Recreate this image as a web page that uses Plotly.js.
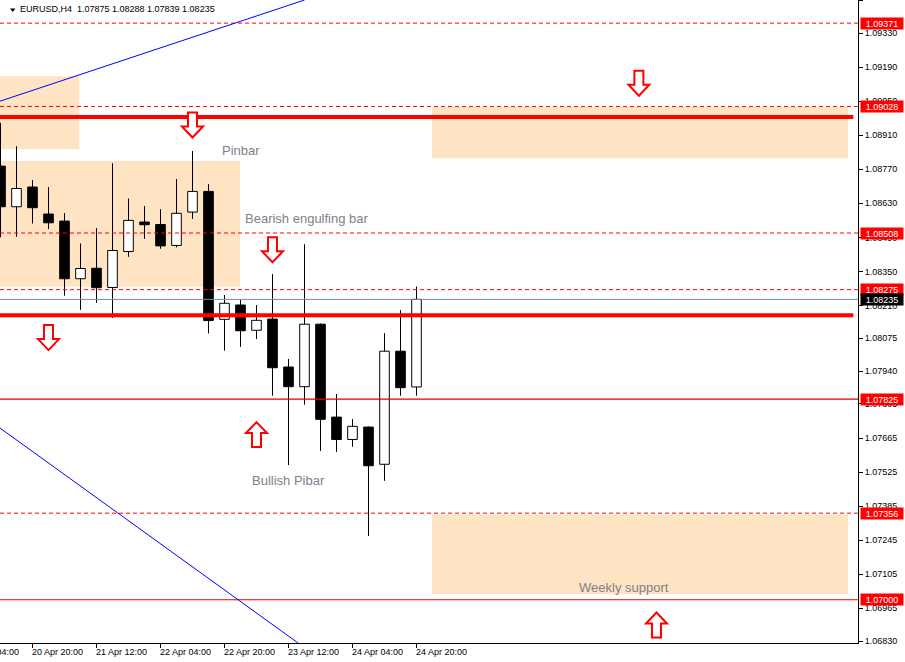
<!DOCTYPE html>
<html><head><meta charset="utf-8">
<script src="https://cdn.plot.ly/plotly-3.0.1.min.js"></script>
<style>html,body{margin:0;padding:0;background:#fff}#chart{width:905px;height:662px}</style>
</head><body><div id="chart"></div>
<script>
// ---------- data ----------
const symbolTitle = "EURUSD,H4  1.07875 1.08288 1.07839 1.08235";
const barIndex = [0,1,2,3,4,5,6,7,8,9,10,11,12,13,14,15,16,17,18,19,20,21,22,23,24,25,26];
const open  = [1.08783,1.08616,1.08697,1.08586,1.08557,1.08320,1.08363,1.08284,1.08432,1.08553,1.08543,1.08457,1.08594,1.08679,1.08153,1.08212,1.08108,1.08154,1.07957,1.07876,1.08133,1.07751,1.07659,1.07710,1.07557,1.08022,1.07875];
const high  = [1.08961,1.08865,1.08726,1.08697,1.08590,1.08465,1.08528,1.08795,1.08650,1.08619,1.08606,1.08730,1.08845,1.08709,1.08253,1.08235,1.08212,1.08339,1.07990,1.08462,1.08136,1.07846,1.07743,1.07712,1.08096,1.08191,1.08288];
const low   = [1.08490,1.08492,1.08547,1.08524,1.08250,1.08192,1.08221,1.08159,1.08410,1.08484,1.08443,1.08449,1.08566,1.08095,1.08024,1.08040,1.08072,1.07839,1.07554,1.07802,1.07612,1.07608,1.07629,1.07262,1.07489,1.07839,1.07839];
const close = [1.08616,1.08691,1.08612,1.08550,1.08320,1.08362,1.08283,1.08436,1.08560,1.08542,1.08455,1.08589,1.08679,1.08148,1.08219,1.08106,1.08149,1.07954,1.07876,1.08133,1.07742,1.07659,1.07713,1.07551,1.08022,1.07872,1.08235];

const xTickIdx  = [-2,2,6,10,14,18,22,26];
const xTickText = ["20 Apr 04:00","20 Apr 20:00","21 Apr 12:00","22 Apr 04:00","22 Apr 20:00","23 Apr 12:00","24 Apr 04:00","24 Apr 20:00"];
const yTickVals = [1.09465,1.09330,1.09190,1.09050,1.08910,1.08770,1.08630,1.08490,1.08350,1.08210,1.08075,1.07940,1.07805,1.07665,1.07525,1.07385,1.07245,1.07105,1.06965,1.06830];

const levelPrices = [1.09371,1.09028,1.08508,1.08275,1.08235,1.07825,1.07356,1.07000];
const levelKinds  = ["dash","dash","dash","dash","bid","solid","dash","solid"];
const thickLevels = [1.08985,1.08170];

const zoneX0 = [-1,-1,26.98,26.98];
const zoneX1 = [4.92,14.98,52.98,52.98];
const zoneTop = [1.09153,1.08804,1.09026,1.07350];
const zoneBottom = [1.08852,1.08287,1.08815,1.07023];

const trendX0 = [-0.03,-0.03];
const trendY0 = [1.09050,1.07706];
const trendX1 = [19.0,18.6];
const trendY1 = [1.09466,1.06822];

const arrowBar   = [12,17,3,39.9,16,41];
const arrowPrice = [1.08952,1.08439,1.08078,1.09124,1.07679,1.06896];
const arrowDir   = ["down","down","down","down","up","up"];

const noteText = ["Pinbar","Bearish engulfing bar","Bullish Pibar","Weekly support"];
const noteX = [13.84,15.29,15.73,36.17];
const noteY = [1.08849,1.08568,1.07492,1.07052];

// ---------- styles ----------
const FONT = "Liberation Sans, Arial, sans-serif";
const xRange = [-0.03125, 53.59375];
const yRange = [1.068221, 1.094661];

// candle bodies
const bodyBase = barIndex.map((_, i) => Math.min(open[i], close[i]));
const bodyLen  = barIndex.map((_, i) => Math.max(Math.abs(close[i] - open[i]), 0.000005));
const bodyColor = barIndex.map((_, i) => close[i] >= open[i] ? "#ffffff" : "#000000");

const bodies = {
  type: "bar", x: barIndex, base: bodyBase, y: bodyLen, width: 0.6,
  marker: {color: bodyColor, line: {color: "#000", width: 1}},
  hoverinfo: "skip"
};
const wx = [], wy = [];
barIndex.forEach((b, i) => {
  const top = Math.max(open[i], close[i]), bot = Math.min(open[i], close[i]);
  wx.push(b, b, null, b, b, null);
  wy.push(high[i], top, null, bot, low[i], null);
});
const wicks = {type: "scatter", mode: "lines", x: wx, y: wy, line: {color: "#000", width: 1}, hoverinfo: "skip"};

const shapes = [];
// zones
zoneX0.forEach((x0, i) => shapes.push({type: "rect", layer: "below", xref: "x", yref: "y",
  x0: x0, x1: zoneX1[i], y0: zoneBottom[i], y1: zoneTop[i], fillcolor: "#FFE4C4", line: {width: 0}}));
// level lines
levelPrices.forEach((p, i) => {
  const k = levelKinds[i];
  let line;
  if (k === "dash") line = {color: "#ff0000", width: 1, dash: "4px,3px"};
  else if (k === "bid") line = {color: "#778899", width: 1};
  else line = {color: "#e00000", width: 1.2};
  shapes.push({type: "line", xref: "paper", yref: "y", x0: 0, x1: 1, y0: p, y1: p, line: line, layer: "above"});
});
// thick lines
thickLevels.forEach(p => shapes.push({type: "line", xref: "x", yref: "y", x0: -1, x1: 53.3, y0: p, y1: p,
  line: {color: "#ff0000", width: 4}, layer: "above"}));
// trend lines
trendX0.forEach((x0, i) => shapes.push({type: "line", xref: "x", yref: "y", x0: x0, y0: trendY0[i], x1: trendX1[i], y1: trendY1[i],
  line: {color: "#0000ff", width: 1}, layer: "above"}));
// arrows
const arrowPts = [[-4.5,12.5],[4.5,12.5],[4.5,-1.5],[10.5,-1.5],[0,-12.5],[-10.5,-1.5],[-4.5,-1.5]];
arrowBar.forEach((b, i) => {
  const s = arrowDir[i] === "down" ? 1 : -1;
  const path = arrowPts.map((p, j) => (j ? "L" : "M") + p[0] + "," + (p[1] * s)).join(" ") + " Z";
  shapes.push({type: "path", xref: "x", yref: "y", xsizemode: "pixel", ysizemode: "pixel",
    xanchor: b, yanchor: arrowPrice[i], path: path, fillcolor: "#ffffff",
    line: {color: "#ff0000", width: 2}, layer: "above"});
});
// title triangle
shapes.push({type: "path", xref: "paper", yref: "paper", xsizemode: "pixel", ysizemode: "pixel",
  xanchor: 0, yanchor: 1, path: "M10,-8.5 L15.5,-8.5 L12.75,-12 Z", fillcolor: "#000", line: {width: 0}});

const annotations = [];
annotations.push({xref: "paper", yref: "paper", x: 0, y: 1, xanchor: "left", yanchor: "top", xshift: 18, yshift: -2,
  text: symbolTitle, showarrow: false, font: {family: FONT, size: 9, color: "#000"}});
// x tick labels (left aligned at tick)
xTickIdx.forEach((t, i) => annotations.push({xref: "paper", yref: "paper",
  x: (t - xRange[0]) / (xRange[1] - xRange[0]), y: 0, xanchor: "left", yanchor: "top", yshift: -2, xshift: -3,
  text: xTickText[i], showarrow: false, font: {family: FONT, size: 9, color: "#000"}}));
// notes
noteText.forEach((t, i) => annotations.push({xref: "x", yref: "y", x: noteX[i], y: noteY[i], xanchor: "left", yanchor: "middle",
  xshift: -2, text: t, showarrow: false, font: {family: FONT, size: 13, color: "#80808a"}}));
// price labels
levelPrices.forEach((p, i) => annotations.push({xref: "paper", yref: "y", x: 1, y: p, xanchor: "left", yanchor: "middle", xshift: 2,
  text: p.toFixed(5), showarrow: false, bgcolor: levelKinds[i] === "bid" ? "#000000" : "#ff0000",
  width: 40, height: 9, borderpad: 1, align: "center", font: {family: FONT, size: 9, color: "#ffffff"}}));

const layout = {
  width: 905, height: 662, margin: {l: 0, r: 47, t: 0, b: 19, pad: 0},
  paper_bgcolor: "#fff", plot_bgcolor: "#fff", showlegend: false,
  font: {family: FONT, size: 9, color: "#000"},
  xaxis: {range: xRange, showgrid: false, zeroline: false, showline: true, linecolor: "#000", linewidth: 1,
    ticks: "outside", ticklen: 4, tickcolor: "#000", tickvals: xTickIdx, showticklabels: false, fixedrange: true},
  yaxis: {side: "right", range: yRange, tickvals: yTickVals, ticktext: yTickVals.map(v => v.toFixed(5)),
    ticks: "outside", ticklen: 4, tickcolor: "#000", showline: true, linecolor: "#000", linewidth: 1,
    showgrid: false, zeroline: false, fixedrange: true, tickfont: {family: FONT, size: 9, color: "#000"}},
  shapes: shapes, annotations: annotations, hovermode: false
};
Plotly.newPlot("chart", [bodies, wicks], layout, {displayModeBar: false, staticPlot: true});
</script></body></html>
